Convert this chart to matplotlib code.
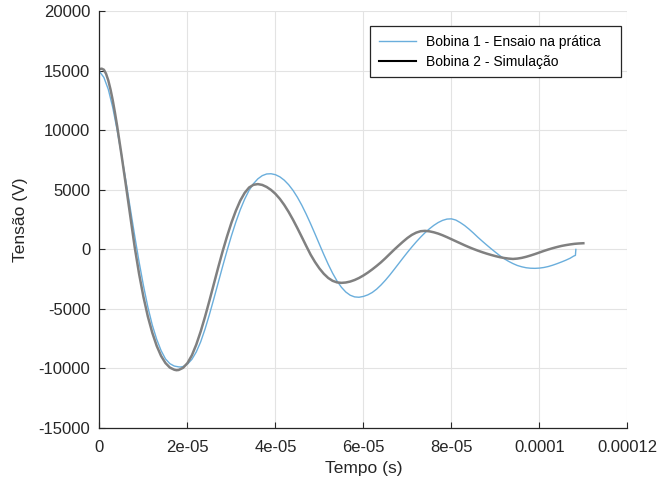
import numpy as np
import matplotlib
matplotlib.use("Agg")
from matplotlib import pyplot as plt
from matplotlib.lines import Line2D

plt.rcParams['font.family'] = ['Liberation Sans', 'DejaVu Sans']
plt.rcParams['axes.unicode_minus'] = False

# Bobina 1 - measured (time in microseconds, voltage in V)
t1_us = [0, 1, 2, 3, 4, 5, 6, 7, 8, 9, 10, 11, 12, 13, 14, 15, 16, 17, 18, 18.4,
         19, 20, 21, 22, 23, 24, 25, 26, 27, 28, 29, 30, 31, 32, 33, 34, 35, 36,
         37, 38, 39, 40, 41, 42, 43, 44, 45, 46, 47, 48, 49, 50, 51, 52, 53, 54,
         55, 56, 57, 58, 59, 60, 61, 62, 63, 64, 65, 66, 67, 68, 69, 70, 71, 72,
         73, 74, 75, 76, 77, 78, 79, 80, 81, 82, 83, 84, 85, 86, 87, 88, 89, 90,
         91, 92, 93, 94, 95, 96, 97, 98, 99, 100, 101, 102, 103, 104, 105, 106,
         107, 107.8, 108.2, 108.3]
v1 = [14950, 14450, 13450, 11950, 10050, 7950, 5750, 3450, 1150, -1050, -3050,
      -4850, -6350, -7550, -8500, -9200, -9600, -9800, -9870, -9880,
      -9840, -9640, -9240, -8620, -7770, -6690, -5460, -4140, -2780, -1420,
      -100, 1150, 2300, 3330, 4220, 4960, 5520, 5930, 6200, 6340, 6360,
      6280, 6100, 5820, 5440, 4960, 4380, 3710, 2960, 2150, 1300, 430, -430,
      -1250, -2000, -2650, -3180, -3580, -3850, -3990, -4020, -3950, -3820,
      -3620, -3340, -2990, -2590, -2150, -1680, -1200, -720, -250, 200, 630,
      1030, 1400, 1730, 2020, 2260, 2440, 2550, 2570, 2470, 2260, 2010,
      1710, 1380, 1030, 700, 380, 70, -230, -520, -780, -1000, -1190, -1350,
      -1460, -1540, -1580, -1590, -1570, -1520, -1440, -1330, -1200, -1060,
      -910, -740, -560, -500, 0]

# Bobina 2 - simulation
t2_us = [0, 0.5, 1, 1.5, 2, 2.5, 3, 3.5, 4, 5, 6, 7, 8, 9, 10, 11, 12, 13, 14,
         15, 16, 17, 17.5,
         18, 19, 20, 21, 22, 23, 24, 25, 26, 27, 28, 29, 30, 31, 32, 33, 34, 35,
         36, 37, 38, 39, 40, 41, 42, 43, 44, 45, 46, 47, 48, 49, 50, 51, 52, 53,
         54, 55, 56, 57, 58, 59, 60, 61, 62, 63, 64, 65, 66, 67, 68, 69, 70, 71,
         72, 73, 74, 75, 76, 77, 78, 79, 80, 81, 82, 83, 84, 85, 86, 87, 88, 89,
         90, 91, 92, 93, 94, 95, 96, 97, 98, 99, 100, 101, 102, 103, 104, 105,
         106, 107, 108, 109, 110]
v2 = [15150, 15190, 15100, 14750, 14200, 13450, 12550, 11520, 10400, 7950,
      5400, 2800, 200, -2050, -4000, -5650, -7000, -8100, -8950,
      -9550, -9930, -10110, -10150,
      -10130, -9950, -9550, -8900, -8000, -6900, -5650, -4300, -2900, -1500,
      -150, 1100, 2250, 3250, 4100, 4750, 5200, 5430, 5490, 5420, 5250, 5000,
      4670, 4250, 3740, 3150, 2490, 1780, 1040, 290, -440, -1060, -1600,
      -2050, -2400, -2640, -2770, -2810, -2780, -2700, -2570, -2400, -2190,
      -1950, -1680, -1390, -1080, -740, -380, -20, 320, 650, 960, 1220, 1410,
      1530, 1560, 1520, 1440, 1330, 1190, 1030, 860, 690, 520, 350, 190, 40,
      -100, -230, -350, -460, -560, -650, -720, -770, -800, -770, -710, -620,
      -510, -390, -260, -130, -10, 100, 200, 290, 360, 420, 470, 500, 520]

x_ticks = [0, 2e-05, 4e-05, 6e-05, 8e-05, 0.0001, 0.00012]
x_tick_labels = ["0", "2e-05", "4e-05", "6e-05", "8e-05", "0.0001", "0.00012"]
y_ticks = [-15000, -10000, -5000, 0, 5000, 10000, 15000, 20000]

t1 = np.array(t1_us) * 1e-6
t2 = np.array(t2_us) * 1e-6

fig = plt.figure(figsize=(6.7, 4.8), dpi=100)
ax = fig.add_axes([0.1485, 0.1085, 0.7878, 0.8677])

ax.plot(t1, v1, color='#6aaedc', linewidth=1.0)
ax.plot(t2, v2, color='#808080', linewidth=1.8)

ax.set_xlim(0, 0.00012)
ax.set_ylim(-15000, 20000)
ax.set_xticks(x_ticks)
ax.set_xticklabels(x_tick_labels)
ax.set_yticks(y_ticks)
ax.grid(True, color='#e3e3e3', linewidth=0.8)
ax.set_axisbelow(True)

for side in ['top', 'right']:
    ax.spines[side].set_visible(False)
for side in ['left', 'bottom']:
    ax.spines[side].set_color('#262626')
    ax.spines[side].set_linewidth(0.9)
ax.tick_params(direction='in', length=4, labelsize=12, colors='#262626',
               labelcolor='#262626')
ax.tick_params(axis='x', pad=9)
ax.tick_params(axis='y', pad=6.5)

ax.set_xlabel("Tempo (s)", fontsize=12.5, color='#262626', labelpad=4)
ax.set_ylabel("Tensão (V)", fontsize=12.5, color='#262626', labelpad=8)

# legend box stretched to a fixed width, entries left-aligned
handles = [Line2D([], [], color='#6aaedc', linewidth=1.0),
           Line2D([], [], color='black', linewidth=1.5)]
leg = ax.legend(handles, ["Bobina 1 - Ensaio na prática", "Bobina 2 - Simulação"],
                loc='upper left', bbox_to_anchor=(0.5125, 0.865, 0.4755, 0.1),
                mode='expand', fontsize=10, fancybox=False, framealpha=1,
                edgecolor='#262626', handlelength=2.66, handletextpad=0.72,
                borderpad=0.62, labelspacing=0.45, borderaxespad=0)
leg.get_frame().set_linewidth(0.9)

fig.savefig("out.png", dpi=100)
